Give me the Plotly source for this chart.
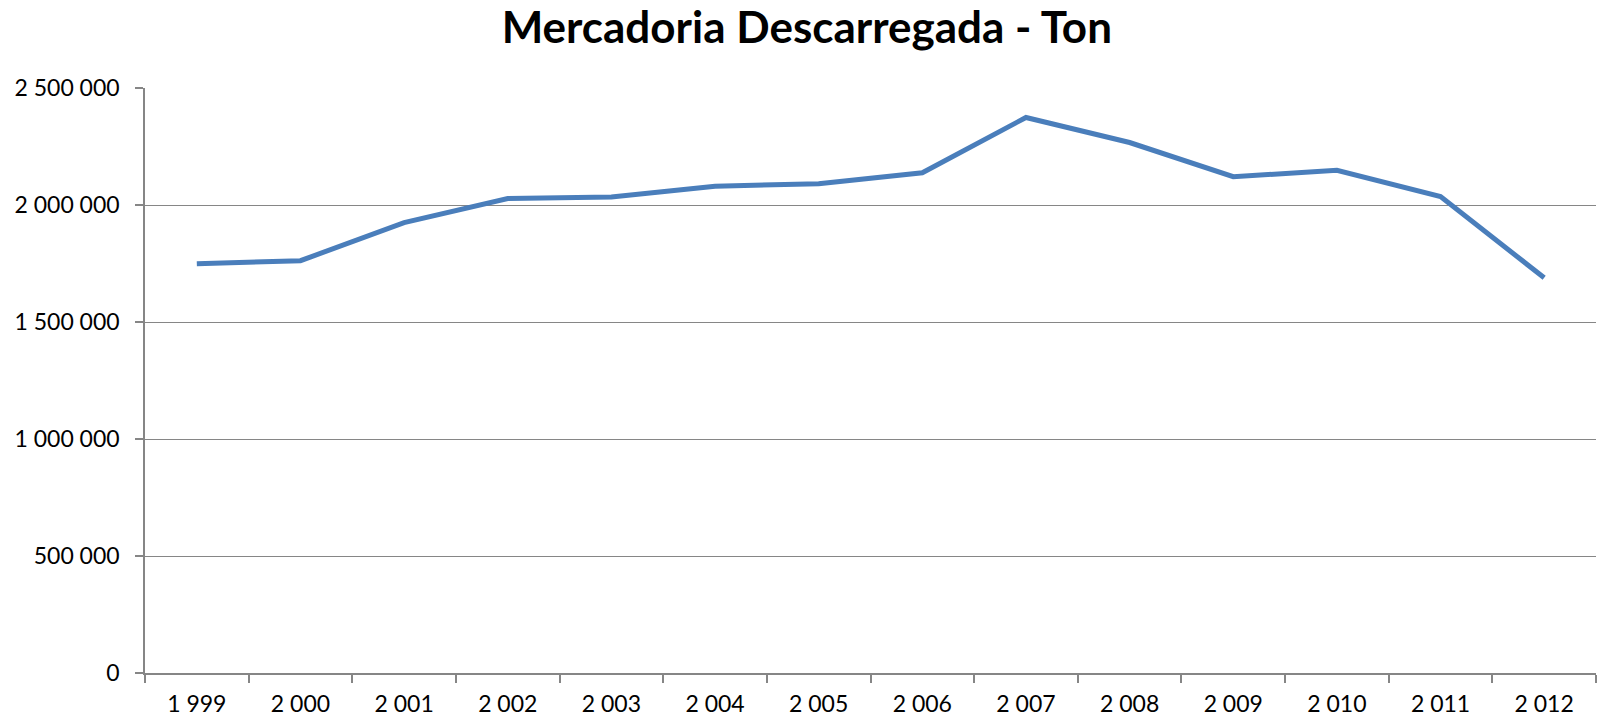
import plotly.graph_objects as go

years = ["1 999", "2 000", "2 001", "2 002", "2 003", "2 004", "2 005",
         "2 006", "2 007", "2 008", "2 009", "2 010", "2 011", "2 012"]
tonnes = [1749000, 1762000, 1925000, 2028000, 2034000, 2080000, 2091000,
          2138000, 2374000, 2267000, 2121000, 2148000, 2036000, 1689000]
y_tick_vals = [0, 500000, 1000000, 1500000, 2000000, 2500000]
y_tick_text = ["0", "500 000", "1 000 000", "1 500 000", "2 000 000", "2 500 000"]
title_text = "Mercadoria Descarregada - Ton"

fig = go.Figure()
fig.add_trace(go.Scatter(
    x=years, y=tonnes, mode="lines",
    line=dict(color="#4a7ebb", width=5),
    showlegend=False, hoverinfo="x+y",
))

axis_gray = "#868686"
fig.update_layout(
    width=1604, height=721,
    paper_bgcolor="white", plot_bgcolor="white",
    margin=dict(l=145, r=8, t=88, b=48, autoexpand=False),
    title=dict(text="<b>" + title_text + "</b>", x=0.503, xanchor="center",
               xref="container", y=1 - 28 / 721, yanchor="middle",
               font=dict(family="Lato, Carlito, Calibri, sans-serif", size=44, color="black")),
    font=dict(family="Lato, Carlito, Calibri, sans-serif", size=23, color="black"),
)
fig.update_xaxes(
    type="category", range=[-0.5, 13.5], automargin=False,
    showline=True, linecolor=axis_gray, linewidth=1.5,
    ticks="outside", tickson="boundaries", ticklen=8, tickcolor=axis_gray, tickwidth=1.5,
    showgrid=False, tickfont=dict(size=23), ticklabelstandoff=10, fixedrange=True,
)
fig.update_yaxes(
    range=[0, 2500000], tickvals=y_tick_vals, ticktext=y_tick_text, automargin=False,
    showline=True, linecolor=axis_gray, linewidth=1.5,
    ticks="outside", ticklen=8, tickcolor=axis_gray, tickwidth=1.5,
    showgrid=True, gridcolor=axis_gray, gridwidth=1.2,
    zeroline=False, tickfont=dict(size=23), ticklabelstandoff=11, fixedrange=True,
)

fig.write_html("out.html", config={"displayModeBar": False},
               post_script="document.body.style.margin='0';document.body.style.overflow='hidden';")
